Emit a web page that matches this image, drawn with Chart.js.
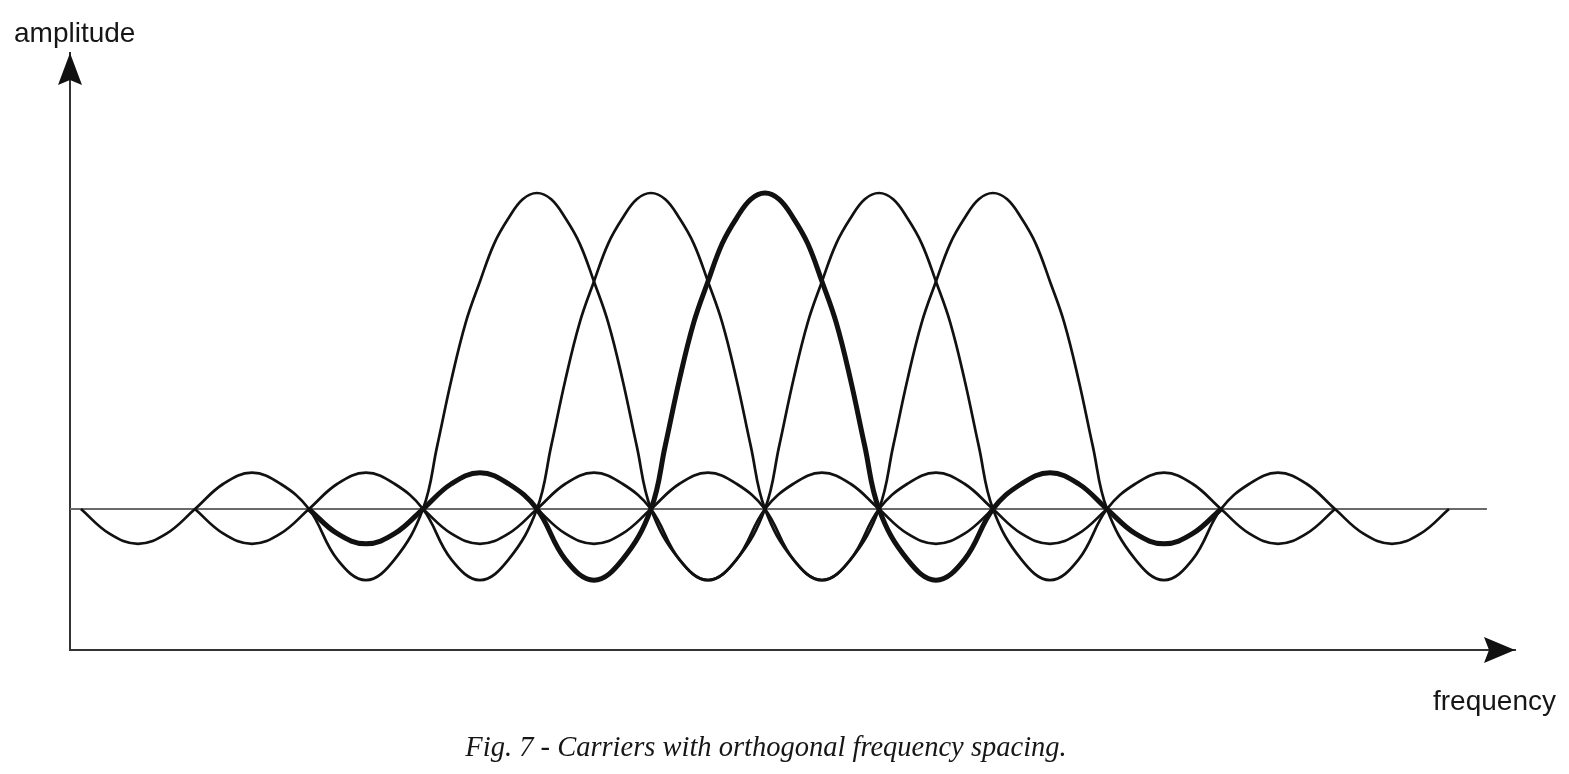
<!DOCTYPE html>
<html>
<head>
<meta charset="utf-8">
<title>Fig. 7 - Carriers with orthogonal frequency spacing</title>
<script src="https://cdn.jsdelivr.net/npm/chart.js@4/dist/chart.umd.min.js"></script>
<style>
    body { margin: 0; background: #fff; }
    #wrap { width: 1569px; height: 774px; }
</style>
</head>
<body>
<div id="wrap"><canvas id="ofdm-chart" width="1569" height="774"></canvas></div>
<script>
// frequency in units of the carrier spacing
const carrierCenters = [5, 6, 7, 8, 9];
const boldCarrier = 7;

// shape of one carrier (offset from centre -> amplitude)
const pulseOffsets = [-4, -3.75, -3.5, -3.25, -3, -2.75, -2.5, -2.25, -2, -1.75, -1.5, -1.25, -1,
    -0.875, -0.75, -0.625, -0.5, -0.375, -0.25, -0.125, 0,
    0.125, 0.25, 0.375, 0.5, 0.625, 0.75, 0.875,
    1, 1.25, 1.5, 1.75, 2, 2.25, 2.5, 2.75, 3, 3.25, 3.5, 3.75, 4];
const pulseAmps = [0, -0.078, -0.11, -0.078, 0, 0.08, 0.115, 0.08, 0, -0.16, -0.225, -0.16, 0,
    0.2, 0.41, 0.59, 0.72, 0.84, 0.92, 0.98, 1,
    0.98, 0.92, 0.84, 0.72, 0.59, 0.41, 0.2,
    0, -0.16, -0.225, -0.16, 0, 0.08, 0.115, 0.08, 0, -0.078, -0.11, -0.078, 0];

const baselineX = [0.904, 13.333];
const baselineY = [0, 0];

const xRange = [0.904, 13.579];
const yRange = [-0.446, 1.443];

const carrierSets = carrierCenters.map(c => ({
    label: 'carrier ' + c,
    data: pulseOffsets.map((o, i) => ({ x: c + o, y: pulseAmps[i] })),
    borderColor: '#111',
    borderWidth: c === boldCarrier ? 5 : 2.7,
    pointRadius: 0,
    fill: false,
    tension: 0.4,
    order: c === boldCarrier ? 0 : 1
}));

const baselineSet = {
    label: 'zero',
    data: baselineX.map((x, i) => ({ x: x, y: baselineY[i] })),
    borderColor: '#6a6a6a',
    borderWidth: 2,
    pointRadius: 0,
    order: 5
};

// arrowheads and free text
const decorations = {
    id: 'decorations',
    afterDraw(chart) {
        const ctx = chart.ctx;
        const a = chart.chartArea;
        ctx.save();
        ctx.fillStyle = '#111';
        // y arrow
        ctx.beginPath();
        ctx.moveTo(a.left, a.top);
        ctx.lineTo(a.left - 12, a.top + 32);
        ctx.lineTo(a.left, a.top + 27);
        ctx.lineTo(a.left + 12, a.top + 32);
        ctx.closePath();
        ctx.fill();
        // x arrow
        ctx.beginPath();
        ctx.moveTo(a.right, a.bottom);
        ctx.lineTo(a.right - 31, a.bottom - 13);
        ctx.lineTo(a.right - 26, a.bottom);
        ctx.lineTo(a.right - 31, a.bottom + 13);
        ctx.closePath();
        ctx.fill();

        ctx.fillStyle = '#161616';
        ctx.textBaseline = 'alphabetic';
        ctx.font = '28px "Liberation Sans", Arial, sans-serif';
        ctx.textAlign = 'left';
        ctx.fillText('amplitude', 14, 42);
        ctx.fillText('frequency', 1433, 710);

        ctx.font = 'italic 28.5px "Liberation Serif", "Times New Roman", serif';
        ctx.textAlign = 'center';
        ctx.fillText('Fig. 7 - Carriers with orthogonal frequency spacing.', 766, 756);
        ctx.restore();
    }
};

const ctx = document.getElementById('ofdm-chart').getContext('2d');
const chart = new Chart(ctx, {
    type: 'line',
    data: {
        datasets: [...carrierSets, baselineSet]
    },
    options: {
        responsive: false,
        animation: false,
        devicePixelRatio: 1,
        layout: {
            padding: { left: 70, right: 54, top: 53, bottom: 124 }
        },
        plugins: {
            legend: { display: false },
            tooltip: { enabled: false }
        },
        scales: {
            x: {
                type: 'linear',
                min: xRange[0],
                max: xRange[1],
                grid: { display: false, drawTicks: false },
                ticks: { display: false },
                border: { display: true, color: '#333', width: 2 }
            },
            y: {
                type: 'linear',
                min: yRange[0],
                max: yRange[1],
                grid: { display: false, drawTicks: false },
                ticks: { display: false },
                border: { display: true, color: '#333', width: 2 }
            }
        }
    },
    plugins: [decorations]
});
</script>
</body>
</html>
